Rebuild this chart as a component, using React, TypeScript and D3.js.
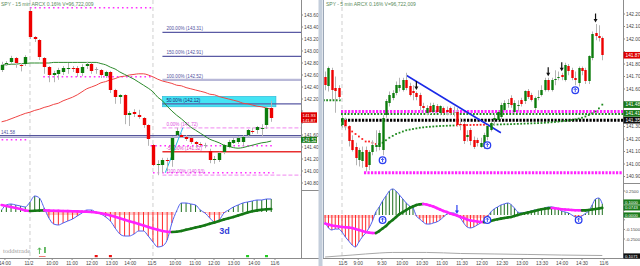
import React from "react";
import * as d3 from "d3";

type OHLC = [number, number, number, number];
const FONT = "'Liberation Sans', Arial, Helvetica, sans-serif";

// ================= LEFT : SPY 15 min =================
const leftTitle = "SPY - 15 min  ARCX  0.16%   V=96,722,009";
const leftCandles: OHLC[] = [
  [142.68, 142.82, 142.65, 142.77], [142.78, 142.83, 142.75, 142.8], [142.82, 142.92, 142.78, 142.88],
  [142.88, 142.9, 142.72, 142.8], [142.77, 142.8, 142.66, 142.76], [142.78, 142.93, 142.75, 142.9],
  [143.67, 143.72, 143.2, 143.23], [143.23, 143.25, 143.15, 143.2], [143.18, 143.2, 142.85, 142.9],
  [142.88, 142.9, 142.62, 142.73], [142.73, 142.75, 142.48, 142.6], [142.6, 142.67, 142.48, 142.63],
  [142.62, 142.72, 142.52, 142.68], [142.65, 142.75, 142.6, 142.72], [142.71, 142.8, 142.62, 142.72],
  [142.72, 142.75, 142.65, 142.7], [142.72, 142.75, 142.57, 142.63], [142.63, 142.78, 142.58, 142.73],
  [142.75, 142.82, 142.7, 142.78], [142.78, 142.8, 142.62, 142.67], [142.7, 142.73, 142.62, 142.7],
  [142.68, 142.7, 142.55, 142.6], [142.58, 142.67, 142.55, 142.65], [142.65, 142.67, 142.3, 142.35],
  [142.35, 142.37, 142.12, 142.23], [142.24, 142.28, 142.12, 142.27], [142.27, 142.28, 141.78, 141.93],
  [141.93, 142.0, 141.75, 141.96], [141.98, 142.03, 141.9, 141.95], [141.93, 142.02, 141.87, 141.9],
  [141.88, 141.9, 141.72, 141.77], [141.77, 141.78, 141.42, 141.53], [141.43, 141.45, 141.08, 141.1],
  [141.11, 141.18, 140.93, 141.12], [141.1, 141.22, 140.97, 141.18], [141.18, 141.22, 141.0, 141.17],
  [141.18, 141.58, 141.07, 141.55], [141.6, 141.72, 141.58, 141.67], [141.6, 141.63, 141.55, 141.57],
  [141.57, 141.6, 141.5, 141.53], [141.55, 141.58, 141.45, 141.48], [141.48, 141.5, 141.4, 141.45],
  [141.45, 141.48, 141.4, 141.44], [141.43, 141.47, 141.38, 141.43], [141.33, 141.37, 141.13, 141.18],
  [141.18, 141.25, 141.12, 141.2], [141.18, 141.32, 141.15, 141.3], [141.32, 141.45, 141.28, 141.43],
  [141.4, 141.52, 141.38, 141.48], [141.47, 141.55, 141.45, 141.52], [141.48, 141.58, 141.45, 141.55],
  [141.48, 141.6, 141.42, 141.57], [141.6, 141.7, 141.57, 141.68], [141.67, 141.72, 141.62, 141.66],
  [141.68, 141.75, 141.62, 141.73], [141.7, 141.78, 141.58, 141.71], [141.77, 142.07, 141.7, 142.05],
  [142.05, 142.17, 141.82, 141.88],
];
const leftMaGreen = [
  142.77, 142.77, 142.78, 142.78, 142.79, 142.79, 142.8, 142.8, 142.8, 142.8, 142.8,
  142.81, 142.81, 142.81, 142.81, 142.81, 142.81, 142.81, 142.81, 142.81, 142.81,
  142.79, 142.77, 142.73, 142.7, 142.65, 142.61, 142.57, 142.53, 142.48, 142.43, 142.38,
  142.32, 142.23, 142.17, 142.08, 142.0, 141.93, 141.87, 141.8, 141.73, 141.68, 141.63, 141.58,
  141.53, 141.5, 141.47, 141.43, 141.41, 141.39, 141.38, 141.39, 141.41, 141.43, 141.45, 141.47,
  141.48, 141.5,
];
const leftMaRed = [
  141.82, 141.84, 141.87, 141.9, 141.93, 141.96, 141.98, 142.01, 142.03, 142.06,
  142.08, 142.11, 142.13, 142.17, 142.2, 142.23, 142.27, 142.32, 142.37, 142.4,
  142.43, 142.47, 142.49, 142.52, 142.54, 142.57, 142.58, 142.6, 142.61, 142.62,
  142.62, 142.6, 142.57, 142.53, 142.5, 142.48, 142.46, 142.43, 142.42, 142.39,
  142.37, 142.35, 142.33, 142.31, 142.28, 142.27, 142.24, 142.22, 142.2, 142.18,
  142.16, 142.13, 142.12, 142.1, 142.08, 142.07, 142.05, 142.03,
];
const leftOsc = [
  0.02, 0.07, 0.08, 0.07, 0.06, 0.05, 0.1, 0.16, 0.14, 0.04,
  -0.06, -0.12, -0.13, -0.11, -0.09, -0.07, -0.04, -0.01, 0.02, 0.02,
  -0.005, -0.02, -0.05, -0.09, -0.16, -0.22, -0.24, -0.24, -0.22, -0.19,
  -0.19, -0.24, -0.3, -0.35, -0.34, -0.28, -0.11, 0.01, 0.09, 0.09,
  0.08, 0.07, 0.02, -0.01, -0.06, -0.1, -0.08, -0.01, 0.02, 0.05,
  0.07, 0.09, 0.1, 0.11, 0.12, 0.12, 0.13, 0.13,
];
const leftSignal = [
  0.07, 0.06, 0.05, 0.04, 0.03, 0.015, 0.01, 0.012, 0.015, 0.016,
  0.014, 0.012, 0.011, 0.01, 0.009, 0.008, 0.006, 0.004, 0.002, 0.0,
  -0.005, -0.012, -0.022, -0.035, -0.048, -0.062, -0.078, -0.092, -0.105, -0.12,
  -0.135, -0.15, -0.165, -0.178, -0.19, -0.198, -0.2, -0.197, -0.19, -0.178,
  -0.167, -0.156, -0.146, -0.132, -0.118, -0.105, -0.09, -0.075, -0.062, -0.05,
  -0.035, -0.02, -0.005, 0.007, 0.016, 0.022, 0.027, 0.03,
];
const leftDayStarts = [6, 32];
const leftPriceTicks = [140.8, 141.0, 141.2, 141.4, 141.6, 141.8, 142.0, 142.2, 142.4, 142.6, 142.8, 143.0, 143.2, 143.4, 143.6];
const leftXTickIdx = [0.7, 5.8, 10.7, 14.9, 19.1, 23.3, 27.2, 31.8, 36.7, 40.9, 44.9, 49.1, 53.4, 57.8];
const leftXTickLabels = ["14:00", "11/2", "10:00", "11:00", "12:00", "13:00", "14:00", "11/5", "10:00", "11:00", "12:00", "13:00", "14:00", "11/6"];
const fibLevels = [143.31, 142.91, 142.52, 142.12, 141.72, 141.32, 140.93];
const fibPct = ["200.00%", "150.00%", "100.00%", "50.00%", "0.00%", "-50.00%", "-100.00%"];
const fibStartIdx = 34;
const fibAnchorIdx = [34.6, 38.3];
const fibAnchorPrice = [140.97, 141.72];
const leftBlueLevels = [141.59, 141.56];
const leftPinkFrom = [6, 8.8, 0, 31.5, 32];
const leftPinkTo = [32, 32, 5.3, 57.5, 57.5];
const leftPinkPrice = [143.72, 142.57, 141.52, 141.42, 140.97];
const leftRedTag = [141.93, 141.87];
const leftGreenTag = 141.52;
const leftRedDots = [20, 23];
const leftGreenDots = [52, 56];

// ================= RIGHT : SPY 5 min =================
const rightTitle = "SPY - 5 min  ARCX  0.16%   V=96,722,009";
const rightCandles: OHLC[] = [
  [141.7, 141.74, 141.59, 141.63], [141.62, 141.78, 141.58, 141.77], [141.75, 141.77, 141.51, 141.59],
  [141.61, 141.7, 141.41, 141.58], [141.61, 141.63, 141.51, 141.54], [141.31, 141.39, 141.29, 141.37],
  [141.35, 141.37, 141.27, 141.3], [141.3, 141.31, 141.14, 141.18], [141.19, 141.23, 141.1, 141.11],
  [141.14, 141.17, 140.99, 141.05], [141.03, 141.13, 140.98, 141.11], [141.02, 141.14, 140.97, 141.1],
  [141.11, 141.14, 140.94, 140.98], [140.99, 141.11, 140.95, 141.1], [141.1, 141.19, 141.07, 141.15],
  [141.14, 141.27, 141.1, 141.15], [141.14, 141.27, 141.11, 141.25], [141.11, 141.39, 141.07, 141.37],
  [141.39, 141.52, 141.37, 141.5], [141.49, 141.58, 141.46, 141.55], [141.53, 141.59, 141.51, 141.57],
  [141.57, 141.66, 141.55, 141.63], [141.61, 141.69, 141.58, 141.63], [141.59, 141.69, 141.58, 141.67],
  [141.67, 141.73, 141.59, 141.61], [141.62, 141.65, 141.54, 141.55], [141.58, 141.63, 141.51, 141.57],
  [141.57, 141.58, 141.51, 141.54], [141.55, 141.57, 141.43, 141.46], [141.46, 141.49, 141.41, 141.45],
  [141.41, 141.47, 141.39, 141.45], [141.46, 141.49, 141.4, 141.42], [141.42, 141.49, 141.4, 141.47],
  [141.46, 141.48, 141.41, 141.42], [141.41, 141.47, 141.39, 141.46], [141.45, 141.46, 141.39, 141.41],
  [141.43, 141.46, 141.39, 141.42], [141.45, 141.46, 141.39, 141.41], [141.42, 141.46, 141.38, 141.42],
  [141.42, 141.45, 141.3, 141.31], [141.32, 141.37, 141.27, 141.31], [141.32, 141.34, 141.16, 141.18],
  [141.22, 141.27, 141.18, 141.23], [141.27, 141.29, 141.15, 141.18], [141.19, 141.22, 141.12, 141.14],
  [141.19, 141.21, 141.14, 141.17], [141.14, 141.21, 141.13, 141.17], [141.14, 141.25, 141.12, 141.23],
  [141.22, 141.31, 141.19, 141.3], [141.27, 141.35, 141.26, 141.33], [141.35, 141.41, 141.31, 141.37],
  [141.35, 141.43, 141.34, 141.42], [141.38, 141.49, 141.36, 141.47], [141.43, 141.51, 141.42, 141.49],
  [141.48, 141.52, 141.45, 141.49], [141.53, 141.55, 141.45, 141.47], [141.42, 141.51, 141.4, 141.49],
  [141.46, 141.51, 141.42, 141.47], [141.51, 141.53, 141.46, 141.48], [141.5, 141.59, 141.48, 141.58],
  [141.58, 141.6, 141.52, 141.54], [141.55, 141.57, 141.5, 141.51], [141.45, 141.54, 141.43, 141.53],
  [141.53, 141.59, 141.51, 141.54], [141.55, 141.63, 141.54, 141.59], [141.59, 141.69, 141.58, 141.67],
  [141.67, 141.69, 141.58, 141.59], [141.59, 141.69, 141.58, 141.67], [141.67, 141.75, 141.63, 141.68],
  [141.69, 141.74, 141.67, 141.7], [141.71, 141.73, 141.67, 141.7], [141.67, 141.81, 141.66, 141.79],
  [141.78, 141.8, 141.71, 141.74], [141.75, 141.77, 141.67, 141.69], [141.69, 141.74, 141.63, 141.67],
  [141.65, 141.78, 141.62, 141.77], [141.77, 141.78, 141.71, 141.74], [141.75, 141.77, 141.64, 141.66],
  [141.66, 141.87, 141.64, 141.86], [141.85, 142.06, 141.83, 142.04], [142.05, 142.12, 141.99, 142.02],
  [142.02, 142.11, 141.98, 142.01], [142.01, 142.02, 141.83, 141.87],
];
const rightVwap: (number | null)[] = [
  null, null, null, null, null,
  141.31, 141.3, 141.29, 141.26, 141.24, 141.22, 141.2, 141.18, 141.18, 141.17, 141.16, 141.16, 141.17,
  141.19, 141.21, 141.225, 141.24, 141.25, 141.26, 141.27, 141.275, 141.28, 141.285, 141.29,
  141.293, 141.296, 141.298, 141.3, 141.302, 141.304, 141.305, 141.306, 141.307, 141.308, 141.309, 141.31,
  141.311, 141.312, 141.312, 141.313, 141.313, 141.314, 141.314, 141.315, 141.315, 141.316, 141.316, 141.317,
  141.318, 141.318, 141.319, 141.32,
  141.321, 141.322, 141.323, 141.324, 141.325, 141.326, 141.327, 141.328, 141.33, 141.332, 141.334, 141.336,
  141.339, 141.342, 141.345, 141.348, 141.352, 141.357, 141.363, 141.37, 141.38, 141.392, 141.405, 141.42,
  141.445, 141.475,
];
const rightOsc = [
  -0.073, -0.135, -0.156, -0.146, -0.146, -0.177, -0.229, -0.271, -0.313, -0.333,
  -0.281, -0.229, -0.188, -0.135, -0.063, 0.031, 0.083, 0.146, 0.198, 0.25,
  0.271, 0.25, 0.208, 0.167, 0.125, 0.094, 0.073, -0.01, -0.042, -0.073,
  -0.094, -0.094, -0.083, -0.073, -0.052, -0.021, 0.01, 0.021, 0.021, 0.0,
  -0.031, -0.083, -0.125, -0.135, -0.125, -0.104, -0.083, -0.052, -0.021, 0.031,
  0.063, 0.083, 0.104, 0.115, 0.125, 0.109, 0.073, 0.031, 0.021, 0.026,
  0.031, 0.042, 0.052, 0.052, 0.057, 0.073, 0.083, 0.083, 0.078, 0.063,
  0.042, 0.031, 0.021, 0.0, -0.021, -0.031, -0.01, 0.016, 0.042, 0.104,
  0.167, 0.177, 0.115,
];
const rightSignal = [
  -0.089, -0.099, -0.109, -0.115, -0.12, -0.125, -0.128, -0.131, -0.135, -0.146,
  -0.156, -0.167, -0.177, -0.184, -0.1875, -0.188, -0.167, -0.141, -0.115, -0.078,
  -0.052, -0.021, 0.01, 0.031, 0.052, 0.073, 0.089, 0.104, 0.111, 0.115,
  0.109, 0.099, 0.089, 0.073, 0.057, 0.042, 0.031, 0.016, 0.005, -0.005,
  -0.021, -0.031, -0.047, -0.057, -0.0625, -0.068, -0.073, -0.074, -0.068, -0.0625,
  -0.052, -0.045, -0.038, -0.031, -0.026, -0.021, -0.01, 0.0, 0.01, 0.018,
  0.026, 0.034, 0.042, 0.052, 0.059, 0.066, 0.071, 0.073, 0.07, 0.065,
  0.06, 0.057, 0.054, 0.052, 0.05, 0.049, 0.048, 0.048, 0.052, 0.057,
  0.0625, 0.068, 0.0743,
];
const rightGrayIdx = [0, 8, 16, 20, 30, 40, 50, 60, 70, 82];
const rightGray = [-0.4375, -0.417, -0.396, -0.39, -0.39, -0.401, -0.406, -0.411, -0.417, -0.422];
const rightDayStart = 5;
const rightPrevLevel = 141.51;
const rightPinkLevel = 141.42;
const rightGreenLevel = 141.4;
const rightBlackLevel = 141.35;
const rightLowLevel = 140.93;
const rightLowFromIdx = 11.5;
const rightTrendIdx = [24, 52];
const rightTrendPrice = [141.71, 141.25];
const rightDownArrows = [27, 66, 70, 80];
const rightUpCircles = [17, 48, 74];
const rightOscCircles = [17, 48, 75];
const rightOscDown = [39];
const rightPriceTicks = [140.9, 141.0, 141.1, 141.2, 141.3, 141.4, 141.5, 141.6, 141.7, 141.8, 141.9, 142.0, 142.1, 142.2];
const rightOscTicks = [0.25, 0.15, 0.05, -0.05, -0.15, -0.25];
const rightXTickIdx = [5.3, 9.8, 16.8, 22.8, 28.7, 34.6, 40.5, 46.4, 52.4, 58.3, 64.2, 70.1, 76, 82.5];
const rightXTickLabels = ["11/5", "9:00", "9:30", "10:00", "10:30", "11:00", "11:30", "12:00", "12:30", "13:00", "13:30", "14:00", "14:30", "11/6"];
const rightPriceTags = [141.87, 141.475, 141.405, 141.35];
const rightPriceTagText = ["141.87", "141.48", "141.41", "141.35"];
const rightOscTags = [0.135, 0.0743, 0.0, -0.427];
const rightOscTagText = ["0.1000", "0.0743", "0.0000", "0.1071"];

const GREEN = "#0c7c0c";
const RED = "#ee0000";
const MAG = "#ff22ff";

function candles(data: OHLC[], x: (i: number) => number, y: (p: number) => number, w: number, key: string) {
  return data.map(([o, h, l, c], i) => {
    const cx = Math.round(x(i)) + 0.5;
    const doji = Math.abs(c - o) < 0.006;
    const fill = doji ? "#a0a0a0" : c > o ? GREEN : RED;
    const top = Math.round(y(Math.max(o, c)));
    const bot = Math.round(y(Math.min(o, c)));
    return (
      <g key={key + i}>
        <line x1={cx} x2={cx} y1={y(h)} y2={y(l)} stroke="#b4b4b4" strokeWidth={1} />
        <rect x={cx - w / 2} y={top} width={w} height={Math.max(1, bot - top)} fill={fill} />
      </g>
    );
  });
}

function oscPanel(vals: number[], sig: number[], x: (i: number) => number, y: (v: number) => number, half: number, key: string) {
  const y0 = y(0);
  const band = vals.map((v, i) =>
    v < 0 ? <rect key={key + "b" + i} x={x(i) - half} width={half * 2} y={y0} height={Math.min(3, y(v) - y0)} fill="#ffc6c6" /> : null
  );
  const bars = vals.map((v, i) => (
    <line key={key + "h" + i} x1={x(i)} x2={x(i)} y1={y0} y2={y(v)} stroke={v >= 0 ? "#1d6f1d" : "#ff2a2a"} strokeWidth={1} />
  ));
  const blue = d3.line<number>().x((_, i) => x(i)).y((v) => y(v)).curve(d3.curveMonotoneX)(vals) || "";
  const segs = sig.slice(1).map((v, k) => {
    const i = k + 1;
    return (
      <line key={key + "s" + i} x1={x(i - 1)} y1={y(sig[i - 1])} x2={x(i)} y2={y(v)}
        stroke={v >= sig[i - 1] ? "#157815" : MAG} strokeWidth={2.6} strokeLinecap="round" />
    );
  });
  return (
    <g>
      {band}
      {bars}
      <path d={blue} fill="none" stroke="#5060f0" strokeWidth={1} />
      {segs}
    </g>
  );
}

function blueCircle(cx: number, cy: number, key: string) {
  return (
    <g key={key}>
      <circle cx={cx} cy={cy} r={3.3} fill="#fff" stroke="#2a3ff0" strokeWidth={1.3} />
      <path d={`M${cx},${cy + 2} V${cy - 1.8} M${cx - 1.5},${cy - 0.3} L${cx},${cy - 1.9} L${cx + 1.5},${cy - 0.3}`} stroke="#2a3ff0" strokeWidth={0.9} fill="none" />
    </g>
  );
}

function downArrow(cx: number, tipY: number, color: string, key: string) {
  return (
    <g key={key}>
      <line x1={cx} x2={cx} y1={tipY - 9} y2={tipY - 2} stroke={color} strokeWidth={1.2} />
      <path d={`M${cx - 2},${tipY - 3.5} L${cx + 2},${tipY - 3.5} L${cx},${tipY} Z`} fill={color} />
    </g>
  );
}

export default function App() {
  const xL = d3.scaleLinear().domain([0, 63]).range([1.6, 299.6]);
  const yL = d3.scaleLinear().domain([140.8, 143.6]).range([183, 15]);
  const yLO = d3.scaleLinear().domain([-0.5, 0.5]).range([262, 162]);
  const xR = d3.scaleLinear().domain([0, 82]).range([325.1, 602.3]);
  const yR = d3.scaleLinear().domain([140.9, 142.2]).range([176.5, 14]);
  const yRO = d3.scaleLinear().domain([-0.25, 0.25]).range([239, 191]);

  const lineIdx = (vals: number[], x: (i: number) => number, y: (v: number) => number) =>
    d3.line<number>().x((_, i) => x(i)).y((v) => y(v)).curve(d3.curveMonotoneX)(vals) || "";

  const fibStroke = ["#5a5aa4", "#5a5aa4", "#b8b8d8", "#5a5aa4", "#f4a0f4", "#e83030", "#f4a0f4"];
  const fibWidth = [1.3, 1.3, 2.2, 1.3, 1.3, 1.6, 1.3];
  const fibDash = [undefined, undefined, undefined, undefined, "4 2", undefined, "4 2"];
  const fibText = ["#5050a0", "#5050a0", "#5050a0", "#202070", "#e050e0", "#e040c0", "#e050e0"];

  const grayLine = d3.line<number>().x((_, k) => xR(rightGrayIdx[k])).y((v) => yRO(v)).curve(d3.curveMonotoneX)(rightGray) || "";

  // tick labels hidden under value tags (as in the reference)
  const lTagY = [...leftRedTag, leftGreenTag].map((p) => yL(p));
  const hiddenL = (yy: number) => yy > 110 && yy < 126 || lTagY.some((t) => Math.abs(t - yy) < 4);
  const rTagY = rightPriceTags.map((p) => yR(p));
  const rOscTagY = rightOscTags.map((v) => yRO(v));
  const hiddenR = (yy: number) => rTagY.some((t) => Math.abs(t - yy) < 5);
  const hiddenRO = (yy: number) => rOscTagY.some((t) => Math.abs(t - yy) < 5);

  return (
    <svg width={640} height={266} style={{ position: "absolute", left: 0, top: 0, background: "#fff" }} fontFamily={FONT}>
      <defs>
        <clipPath id="lp"><rect x={0} y={0} width={301} height={190} /></clipPath>
        <clipPath id="lo"><rect x={0} y={190} width={301} height={68} /></clipPath>
        <clipPath id="rp"><rect x={323} y={0} width={300} height={183} /></clipPath>
        <clipPath id="ro"><rect x={323} y={183} width={300} height={75} /></clipPath>
      </defs>
      <rect x={0} y={0} width={640} height={266} fill="#fff" />

      {/* ===== LEFT CHART ===== */}
      {leftDayStarts.map((d, i) => (
        <line key={"lds" + i} x1={xL(d)} x2={xL(d)} y1={0} y2={258} stroke="#cfcfcf" strokeDasharray="4 3" />
      ))}
      <g clipPath="url(#lp)">
        {leftBlueLevels.map((p, i) => (
          <line key={"lbl" + i} x1={0} x2={301} y1={yL(p)} y2={yL(p)} stroke={i === 0 ? "#55559c" : "#a6a6cc"} strokeWidth={1.4} />
        ))}
        <text x={1} y={yL(leftBlueLevels[0]) - 1.5} fontSize={4.6} fill="#5050a0">141.58</text>
        {leftPinkPrice.map((p, i) => (
          <line key={"lpk" + i} x1={xL(leftPinkFrom[i])} x2={xL(leftPinkTo[i])} y1={yL(p)} y2={yL(p)} stroke="#ff30ff" strokeWidth={1.6} strokeDasharray="1.6 3" />
        ))}
        <rect x={xL(fibStartIdx)} y={yL(fibLevels[3]) - 7.5} width={xL(58) - xL(fibStartIdx)} height={10.5} fill="#44e4f4" stroke="#2cb4d4" strokeWidth={0.6} />
        {fibLevels.map((p, i) => (
          <g key={"fib" + i}>
            <line x1={xL(fibStartIdx)} x2={301} y1={yL(p)} y2={yL(p)} stroke={fibStroke[i]} strokeWidth={fibWidth[i]} strokeDasharray={fibDash[i]} />
            <text x={xL(fibStartIdx) + 4} y={yL(p) - 2} fontSize={4.6} fill={fibText[i]}>{`${fibPct[i]} (${p.toFixed(2)})`}</text>
          </g>
        ))}
        <line x1={xL(fibAnchorIdx[0])} y1={yL(fibAnchorPrice[0])} x2={xL(fibAnchorIdx[1])} y2={yL(fibAnchorPrice[1])} stroke="#28b8e8" strokeWidth={1} />
        <path d={lineIdx(leftMaRed, xL, yL)} fill="none" stroke="#f04444" strokeWidth={1} />
        <path d={lineIdx(leftMaGreen, xL, yL)} fill="none" stroke="#2c8a2c" strokeWidth={1} />
        {candles(leftCandles, xL, yL, 3.4, "lc")}
      </g>
      <g clipPath="url(#lo)">
        {oscPanel(leftOsc, leftSignal, xL, yLO, 2.4, "lo")}
        <text x={xL(46)} y={234} fontSize={9} fontWeight="bold" fill="#3040d8">3d</text>
        <text x={3} y={253} fontSize={6.5} fill="#a0a0a0" fontFamily="'Liberation Serif', serif">toddstrade</text>
        <path d={`M${xL(8)},254 V248 M${xL(8) - 1.6},249.8 L${xL(8)},247.8 L${xL(8) + 1.6},249.8`} stroke="#44aa44" strokeWidth={0.9} fill="none" />
        <rect x={xL(9)} y={247} width={1.6} height={6} fill="#44aa44" />
        <line x1={xL(7.9)} x2={xL(9.3)} y1={256.5} y2={256.5} stroke="#ee5555" strokeWidth={0.8} />
        {leftRedDots.map((d, i) => <rect key={"lrd" + i} x={xL(d) - 1.5} y={255} width={3} height={2.2} fill="#ee1111" />)}
        {leftGreenDots.map((d, i) => <rect key={"lgd" + i} x={xL(d) - 1.5} y={255} width={3} height={2.2} fill="#22cc22" />)}
      </g>
      {/* left axes */}
      <line x1={301.5} x2={301.5} y1={0} y2={258} stroke="#8c8c8c" />
      <line x1={0} x2={319} y1={258.5} y2={258.5} stroke="#8c8c8c" />
      <line x1={301} x2={319} y1={190.5} y2={190.5} stroke="#8c8c8c" />
      {leftPriceTicks.map((p, i) => (
        <g key={"lpt" + i}>
          <line x1={301} x2={303} y1={yL(p)} y2={yL(p)} stroke="#8c8c8c" />
          {hiddenL(yL(p)) ? null : <text x={304} y={yL(p) + 1.8} fontSize={4.8} fill="#444">{p.toFixed(2)}</text>}
        </g>
      ))}
      <rect x={301} y={112.3} width={16} height={10.4} fill="#dd0000" />
      <text x={302.5} y={116.9} fontSize={4.3} fill="#fff">{leftRedTag[0].toFixed(2)}</text>
      <text x={302.5} y={121.6} fontSize={4.3} fill="#fff">{leftRedTag[1].toFixed(2)}</text>
      <rect x={301} y={yL(leftGreenTag) - 3} width={16} height={6} fill="#1a7a1a" />
      <text x={302.5} y={yL(leftGreenTag) + 1.8} fontSize={4.6} fill="#fff">{leftGreenTag.toFixed(2)}</text>
      {leftXTickIdx.map((t, i) => (
        <g key={"lxt" + i}>
          <line x1={xL(t)} x2={xL(t)} y1={258} y2={260} stroke="#8c8c8c" />
          <text x={xL(t)} y={265} fontSize={4.8} fill="#444" textAnchor="middle">{leftXTickLabels[i]}</text>
        </g>
      ))}
      <text x={1} y={5.5} fontSize={5} fill="#5a8a5a">{leftTitle}</text>

      {/* separator between charts */}
      <rect x={318.5} y={0} width={4} height={266} fill="#c4cedb" />

      {/* ===== RIGHT CHART ===== */}
      <line x1={xR(rightDayStart)} x2={xR(rightDayStart)} y1={0} y2={258} stroke="#cfcfcf" strokeDasharray="4 3" />
      <g clipPath="url(#rp)">
        <line x1={323} x2={xR(4.6)} y1={yR(rightPrevLevel)} y2={yR(rightPrevLevel)} stroke="#1f8a1f" strokeWidth={2} strokeDasharray="1.8 1.4" />
        <line x1={xR(rightDayStart) - 1} x2={623} y1={yR(rightPinkLevel)} y2={yR(rightPinkLevel)} stroke={MAG} strokeWidth={3} strokeDasharray="2.2 1.3" />
        <line x1={xR(rightDayStart) - 1} x2={623} y1={yR(rightGreenLevel)} y2={yR(rightGreenLevel)} stroke="#1f8a1f" strokeWidth={2} strokeDasharray="1.8 1.5" />
        <line x1={xR(rightDayStart) - 1} x2={623} y1={yR(rightBlackLevel)} y2={yR(rightBlackLevel)} stroke="#000" strokeWidth={3} strokeDasharray="2.2 1.3" />
        <line x1={xR(rightLowFromIdx)} x2={623} y1={yR(rightLowLevel)} y2={yR(rightLowLevel)} stroke={MAG} strokeWidth={3} strokeDasharray="2.2 1.3" />
        {rightVwap.map((v, i) => {
          if (v == null) return null;
          const col = rightCandles[i][3] > v + 0.01 ? "#1f8a1f" : "#ff2020";
          return <rect key={"vw" + i} x={xR(i) - 0.9} y={yR(v) - 0.9} width={1.8} height={1.8} fill={col} />;
        })}
        <line x1={xR(rightTrendIdx[0])} y1={yR(rightTrendPrice[0])} x2={xR(rightTrendIdx[1])} y2={yR(rightTrendPrice[1])} stroke="#1a2ae8" strokeWidth={1.5} />
        {candles(rightCandles, xR, yR, 2.4, "rc")}
        {rightDownArrows.map((d, i) => downArrow(xR(d), yR(rightCandles[d][1]) - 1.5, "#111", "rda" + i))}
        {rightUpCircles.map((d, i) => blueCircle(xR(d), yR(rightCandles[d][2]) + 5, "ruc" + i))}
      </g>
      <g clipPath="url(#ro)">
        <path d={grayLine} fill="none" stroke="#a8a8a8" strokeWidth={1} />
        {oscPanel(rightOsc, rightSignal, xR, yRO, 1.7, "ro")}
        {rightOscCircles.map((d, i) => blueCircle(xR(d), yRO(0) + 5, "roc" + i))}
        {rightOscDown.map((d, i) => downArrow(xR(d), yRO(0) - 1, "#2a3ff0", "rod" + i))}
      </g>
      {/* right axes */}
      <line x1={323.5} x2={323.5} y1={0} y2={258} stroke="#9aa6b6" />
      <line x1={623.5} x2={623.5} y1={0} y2={258} stroke="#8c8c8c" />
      <line x1={323} x2={640} y1={258.5} y2={258.5} stroke="#8c8c8c" />
      <line x1={623} x2={640} y1={183.5} y2={183.5} stroke="#8c8c8c" />
      {rightPriceTicks.map((p, i) => (
        <g key={"rpt" + i}>
          <line x1={623} x2={625} y1={yR(p)} y2={yR(p)} stroke="#8c8c8c" />
          {hiddenR(yR(p)) ? null : <text x={626} y={yR(p) + 1.8} fontSize={4.8} fill="#444">{p.toFixed(2)}</text>}
        </g>
      ))}
      {rightOscTicks.map((v, i) => (
        <g key={"rot" + i}>
          <line x1={623} x2={625} y1={yRO(v)} y2={yRO(v)} stroke="#8c8c8c" />
          {hiddenRO(yRO(v)) ? null : <text x={625.5} y={yRO(v) + 1.7} fontSize={4.3} fill="#444">{v.toFixed(4)}</text>}
        </g>
      ))}
      {rightPriceTags.map((p, i) => {
        const fill = i === 0 ? "#dd0000" : i === 3 ? "#111" : "#1a7a1a";
        return (
          <g key={"rtag" + i}>
            <rect x={623.5} y={yR(p) - 3.3} width={16.5} height={6.6} fill={fill} />
            <text x={625.5} y={yR(p) + 1.8} fontSize={4.8} fill="#fff">{rightPriceTagText[i]}</text>
          </g>
        );
      })}
      {rightOscTags.map((v, i) => {
        const fill = i === 3 ? "#111" : "#1a7a1a";
        return (
          <g key={"rotag" + i}>
            <rect x={623.5} y={yRO(v) - 2.6} width={16.5} height={5.2} fill={fill} />
            <text x={625} y={yRO(v) + 1.6} fontSize={4.2} fill="#fff">{rightOscTagText[i]}</text>
          </g>
        );
      })}
      {rightXTickIdx.map((t, i) => (
        <g key={"rxt" + i}>
          <line x1={xR(t)} x2={xR(t)} y1={258} y2={260} stroke="#8c8c8c" />
          <text x={xR(t)} y={265} fontSize={4.8} fill="#444" textAnchor="middle">{rightXTickLabels[i]}</text>
        </g>
      ))}
      <text x={326} y={5.5} fontSize={5} fill="#5a8a5a">{rightTitle}</text>
    </svg>
  );
}
